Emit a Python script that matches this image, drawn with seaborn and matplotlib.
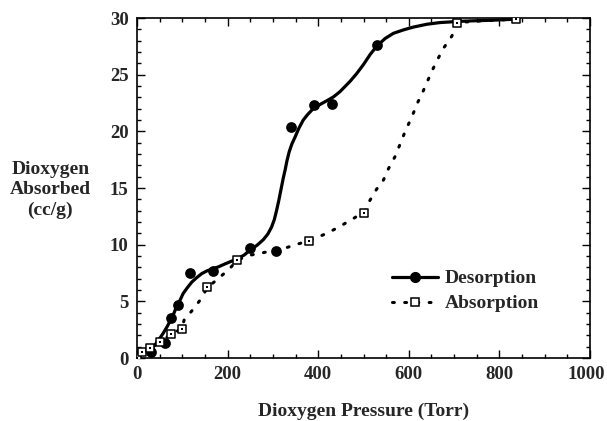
import matplotlib
matplotlib.use("Agg")
import matplotlib.pyplot as plt
import matplotlib.transforms as mtransforms
import seaborn as sns
from matplotlib.lines import Line2D
from matplotlib.ticker import MultipleLocator

# Measured points
des_x = [30, 62, 76, 91, 117, 167, 249, 307, 341, 391, 430, 530]
des_y = [0.5, 1.3, 3.5, 4.7, 7.5, 7.7, 9.7, 9.4, 20.4, 22.3, 22.4, 27.6]
abs_x = [0, 12, 29, 51, 76, 99, 155, 221, 380, 502, 707, 837]
abs_y = [0.0, 0.55, 0.85, 1.4, 2.1, 2.6, 6.3, 8.65, 10.35, 12.8, 29.6, 29.9]

# Fitted curves
des_curve_x = [38, 48, 58, 67, 76, 82, 88, 95, 102, 111, 121, 132, 143, 155, 166,
               180, 194, 209, 224, 237, 249, 265, 279, 289, 297, 303, 308, 313, 319,
               323, 327, 331, 336, 342, 349, 357, 367, 377, 389, 403, 419, 434, 448,
               459, 470, 485, 500, 515, 530, 548, 566, 588, 610, 640, 669, 690, 707,
               740, 780, 837]
des_curve_y = [1.06, 1.6, 2.2, 2.8, 3.5, 4.0, 4.6, 5.1, 5.7, 6.2, 6.7, 7.1, 7.45,
               7.7, 7.85, 8.05, 8.3, 8.55, 8.8, 9.1, 9.5, 9.95, 10.45, 10.95, 11.55,
               12.2, 13.0, 13.9, 15.1, 15.9, 16.6, 17.4, 18.2, 18.9, 19.5, 20.25,
               21.0, 21.5, 22.0, 22.35, 22.7, 23.05, 23.5, 23.95, 24.4, 25.1, 25.9,
               26.8, 27.55, 28.2, 28.65, 28.95, 29.2, 29.45, 29.6, 29.65, 29.7, 29.75,
               29.8, 29.9]
abs_curve_x = [0, 12, 29, 51, 76, 99, 104, 124, 141, 155, 182, 205, 221, 253, 279,
               327, 350, 380, 398, 422, 447, 469, 502, 514, 529, 544, 555, 570, 579,
               589, 599, 610, 619, 630, 641, 652, 663, 676, 695, 707, 760, 837]
abs_curve_y = [0.0, 0.55, 0.85, 1.4, 2.1, 2.6, 3.35, 4.3, 5.2, 6.2, 7.1, 7.9, 8.65,
               9.1, 9.3, 9.7, 10.0, 10.35, 10.65, 11.05, 11.6, 12.1, 12.9, 13.9, 14.9,
               15.7, 16.7, 17.8, 18.7, 19.7, 20.6, 21.6, 22.5, 23.4, 24.4, 25.4,
               26.3, 27.3, 28.4, 29.6, 29.75, 29.9]

x_ticks = [0, 200, 400, 600, 800, 1000]
y_ticks = [0, 5, 10, 15, 20, 25, 30]

sns.set_style("ticks")
plt.rcParams['font.family'] = ['Liberation Serif', 'DejaVu Serif']
plt.rcParams['font.weight'] = 'bold'

FS = 14
TFS = 13.5

fig = plt.figure(figsize=(6.07, 4.21), dpi=100)
ax = fig.add_axes([0.2257, 0.1496, 0.7463, 0.8076])

dot_style = (0, (0.6, 3.4))

sns.lineplot(x=des_curve_x, y=des_curve_y, ax=ax, color='black', lw=2.3, sort=False)
sns.lineplot(x=abs_curve_x, y=abs_curve_y, ax=ax, color='black', lw=2.2, sort=False,
             linestyle=dot_style, dash_capstyle='round')
sns.scatterplot(x=des_x, y=des_y, ax=ax, color='black', s=60, marker='o',
                edgecolor='black', linewidth=0, zorder=5)
sns.scatterplot(x=abs_x, y=abs_y, ax=ax, color='white', s=38, marker='s',
                edgecolor='black', linewidth=1.1, zorder=6)
sns.scatterplot(x=abs_x, y=abs_y, ax=ax, color='black', s=1.5, marker='s',
                linewidth=0, zorder=7)

ax.set_xlim(0, 1000)
ax.set_ylim(0, 30)
ax.set_xticks(x_ticks)
ax.set_yticks(y_ticks)
ax.set_xticklabels([str(v) for v in x_ticks])
ax.set_yticklabels([str(v) for v in y_ticks])
ax.xaxis.set_minor_locator(MultipleLocator(50))
ax.yaxis.set_minor_locator(MultipleLocator(1))
ax.tick_params(which='both', direction='in', top=True, right=True, width=1, color='black')
ax.tick_params(which='major', length=6, labelsize=TFS, pad=6)
ax.tick_params(which='minor', length=3)
for lab in ax.get_xticklabels() + ax.get_yticklabels():
    lab.set_fontweight('bold')
# nudge the last x label left so it stays inside the figure (as in the reference)
last = ax.get_xticklabels()[-1]
last.set_transform(last.get_transform() +
                   mtransforms.ScaledTranslation(-4 / 100, 0, fig.dpi_scale_trans))
for s in ax.spines.values():
    s.set_linewidth(1.2)
    s.set_color('black')

ax.set_xlabel('Dioxygen Pressure (Torr)', fontsize=FS, fontweight='bold', labelpad=14)
fig.text(0.083, 0.549, 'Dioxygen\nAbsorbed\n(cc/g)', ha='center', va='center',
         fontsize=FS, fontweight='bold', linespacing=1.25)

handles = [
    Line2D([], [], color='black', lw=2.3, marker='o', markersize=7),
    Line2D([], [], color='black', lw=2.2, linestyle=dot_style, dash_capstyle='round',
           marker='s', markersize=6, markerfacecolor='white', markeredgecolor='black',
           markeredgewidth=1.1),
]
ax.legend(handles, ['Desorption', 'Absorption'], loc='center left',
          bbox_to_anchor=(0.563, 0.197), frameon=False, handlelength=2.36,
          handletextpad=0.36, labelspacing=0.38, borderpad=0, borderaxespad=0,
          prop={'size': FS, 'weight': 'bold'})

fig.savefig('out.png', dpi=100)
